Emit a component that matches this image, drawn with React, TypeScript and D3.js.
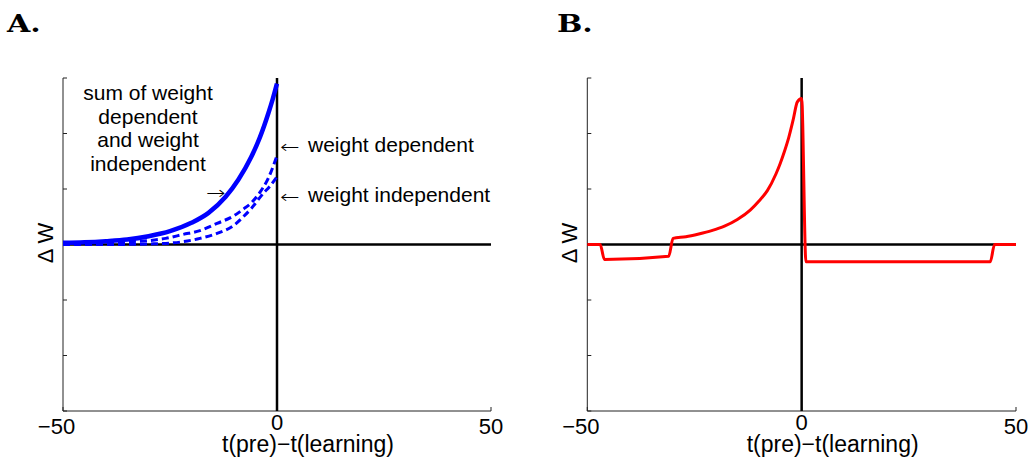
import * as d3 from "d3";

// x positions of the samples (t(pre) - t(learning)) and Delta W
const xTicks = [-50, 0, 50];
const yTicks = [-3, -2, -1, 0, 1, 2, 3];

// panel A: sum of weight dependent and weight independent (solid)
const sumT = [-50, -45, -40, -35, -30, -25, -20, -16, -12, -9, -6, -4, -2, -1, 0];
const sumW = [0.03, 0.04, 0.06, 0.09, 0.15, 0.24, 0.39, 0.57, 0.86, 1.17, 1.58, 1.93, 2.37, 2.62, 2.9];

// panel A: weight dependent (upper dashed)
const depT = [-50, -45, -40, -35, -30, -26, -22, -18, -14, -10, -8, -6, -4, -2, 0];
const depW = [0.01, 0.02, 0.03, 0.05, 0.07, 0.11, 0.18, 0.25, 0.38, 0.52, 0.63, 0.75, 0.94, 1.2, 1.6];

// panel A: weight independent (lower dashed)
const indT = [-50, -40, -30, -26, -22, -18, -14, -10, -8, -6, -3, -2, 0];
const indW = [0, 0, 0.01, 0.02, 0.05, 0.11, 0.2, 0.35, 0.49, 0.65, 0.94, 1.02, 1.22];

// panel B: red rule
const ruleT = [-50, -47, -46, -31, -30, -27, -24, -21, -18, -15, -12, -10, -8, -6, -5, -4, -3, -2, -1, 0, 1, 44, 45, 50];
const ruleW = [0, 0, -0.27, -0.21, 0.11, 0.14, 0.19, 0.25, 0.33, 0.45, 0.62, 0.78, 0.97, 1.27, 1.46, 1.68, 1.93, 2.24, 2.57, 2.63, -0.31, -0.31, 0, 0];

const font = "'Liberation Sans', Arial, Helvetica, sans-serif";
const arrowFont = "'DejaVu Sans', sans-serif";
const top = 78;
const bottom = 411;

type Series = { t: number[]; w: number[]; color: string; width: number; dash?: string; curve: d3.CurveFactory };

function Panel({ left, right, title, titleX, series, children }: { left: number; right: number; title: string; titleX: number; series: Series[]; children?: any }) {
  const x = d3.scaleLinear().domain([-50, 50]).range([left, right]);
  const y = d3.scaleLinear().domain([-3, 3]).range([bottom, top]);
  const mid = x(0);

  return (
    <g>
      <text transform={`translate(${titleX},32) scale(1.25,1)`} fontFamily="'DejaVu Serif', serif" fontWeight="bold" fontSize={24}>
        {title}
      </text>

      {/* axes */}
      <line x1={left} x2={left} y1={top} y2={bottom} stroke="#222" strokeWidth={1} />
      <line x1={left} x2={right} y1={bottom} y2={bottom} stroke="#222" strokeWidth={1} />
      {yTicks.map((d) => (
        <line key={"y" + d} x1={left} x2={left + 4} y1={y(d)} y2={y(d)} stroke="#222" strokeWidth={1} />
      ))}
      {xTicks.map((d) => (
        <line key={"x" + d} x1={x(d)} x2={x(d)} y1={bottom} y2={bottom - 4} stroke="#222" strokeWidth={1} />
      ))}
      {xTicks.map((d) => (
        <text
          key={"l" + d}
          x={x(d)}
          dx={d < 0 ? -6.5 : 0}
          y={d === 0 ? 430 : 434}
          textAnchor="middle"
          fontFamily={font}
          fontSize={22}
        >
          {d < 0 ? "\u2212" + Math.abs(d) : d}
        </text>
      ))}
      <text x={mid + 31} y={452} textAnchor="middle" fontFamily={font} fontSize={23}>
        t(pre)−t(learning)
      </text>
      <text transform={`translate(${left - 10},243) rotate(-90)`} textAnchor="middle" fontFamily={font} fontSize={22}>
        Δ W
      </text>

      {/* zero lines */}
      <line x1={left} x2={right} y1={y(0)} y2={y(0)} stroke="#000" strokeWidth={2.5} />
      <line x1={mid} x2={mid} y1={top} y2={bottom} stroke="#000" strokeWidth={2.5} />

      {series.map((s, i) => {
        const pts: [number, number][] = s.t.map((t, j) => [t, s.w[j]]);
        const path = d3
          .line<[number, number]>()
          .x((d) => x(d[0]))
          .y((d) => y(d[1]))
          .curve(s.curve)(pts);
        return (
          <path
            key={i}
            d={path ?? ""}
            fill="none"
            stroke={s.color}
            strokeWidth={s.width}
            strokeDasharray={s.dash}
            strokeLinejoin="round"
          />
        );
      })}
      {children}
    </g>
  );
}

function Arrow({ x, y, glyph }: { x: number; y: number; glyph: string }) {
  return (
    <text transform={`translate(${x},${y}) scale(1.3,1)`} fontFamily={arrowFont} fontSize={18} fontWeight={300}>
      {glyph}
    </text>
  );
}

export default function App() {
  const seriesA: Series[] = [
    { t: indT, w: indW, color: "#0000ff", width: 3, dash: "7,4", curve: d3.curveMonotoneX },
    { t: depT, w: depW, color: "#0000ff", width: 3, dash: "7,4", curve: d3.curveMonotoneX },
    { t: sumT, w: sumW, color: "#0000ff", width: 4.5, curve: d3.curveMonotoneX },
  ];
  const seriesB: Series[] = [{ t: ruleT, w: ruleW, color: "#ff0000", width: 3, curve: d3.curveMonotoneX }];

  const annot = ["sum of weight", "dependent", "and weight", "independent"];

  return (
    <svg width={1031} height={457} style={{ position: "absolute", left: 0, top: 0, background: "#fff" }}>
      <Panel left={63} right={491} title="A." titleX={7} series={seriesA}>
        <g fontFamily={font} fontSize={21}>
          {annot.map((s, i) => (
            <text key={s} x={148} y={100 + i * 23.7} textAnchor="middle">
              {s}
            </text>
          ))}
          <Arrow x={206} y={199} glyph="→" />
          <Arrow x={280} y={153} glyph="←" />
          <text x={308} y={151.7}>weight dependent</text>
          <Arrow x={280} y={203} glyph="←" />
          <text x={308} y={201.7}>weight independent</text>
        </g>
      </Panel>
      <Panel left={587.3} right={1016} title="B." titleX={557} series={seriesB} />
    </svg>
  );
}
